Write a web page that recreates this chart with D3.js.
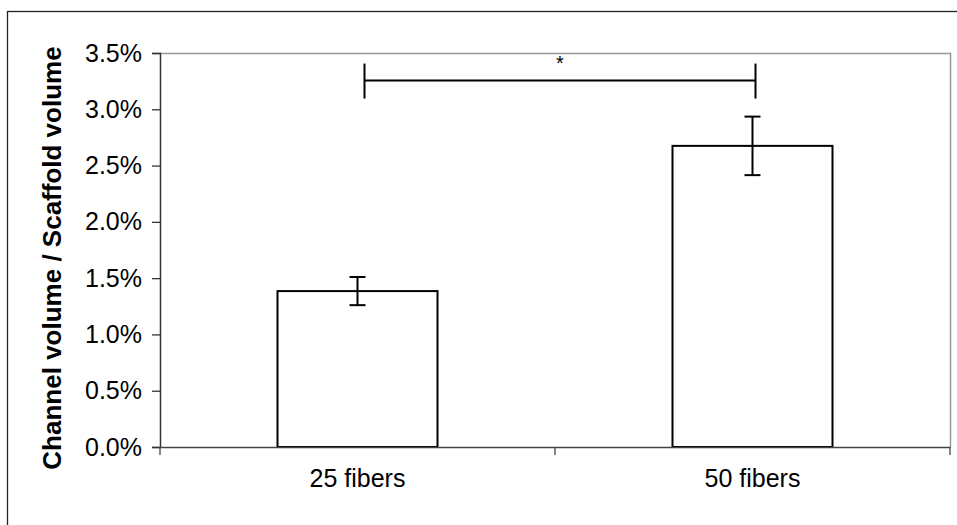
<!DOCTYPE html>
<html>
<head>
<meta charset="utf-8">
<script src="https://cdn.jsdelivr.net/npm/d3@7"></script>
<style>
  body { margin: 0; background: #fff; }
  text { font-family: "Liberation Sans", Arial, sans-serif; fill: #000; }
</style>
</head>
<body>
<svg id="chart" width="957" height="525"></svg>
<script>
// data
var categories = ["25 fibers", "50 fibers"];
var means = [1.385, 2.675];       // percent
var errors = [0.125, 0.26];       // +/- percent
var yTicks = [0, 0.5, 1.0, 1.5, 2.0, 2.5, 3.0, 3.5];
var sigPair = ["25 fibers", "50 fibers"];
var sigLevel = 3.255;
var sigLabel = "*";

var svg = d3.select("#chart");

// outer frame
svg.append("rect")
    .attr("x", 7.5).attr("y", 11.5)
    .attr("width", 960).attr("height", 530)
    .attr("fill", "none").attr("stroke", "#222").attr("stroke-width", 1.3);

// plot area (note: "top" clashes with window.top)
var plotL = 160, plotR = 950, plotT = 53, plotB = 447;

var x = d3.scaleBand().domain(categories).range([plotL, plotR]).paddingInner(0).paddingOuter(0);
var y = d3.scaleLinear().domain([0, 3.5]).range([plotB, plotT]);
var barW = 160;

// plot area top/right edges (gray)
svg.append("path")
    .attr("d", "M" + plotL + "," + (plotT + 0.5) + "H" + (plotR + 0.5) + "V" + plotB)
    .attr("fill", "none").attr("stroke", "#999").attr("stroke-width", 1.5);

// bars
svg.selectAll("rect.bar").data(categories).enter().append("rect")
    .attr("class", "bar")
    .attr("x", function(d) { return x(d) + x.bandwidth() / 2 - barW / 2; })
    .attr("width", barW)
    .attr("y", function(d, i) { return y(means[i]); })
    .attr("height", function(d, i) { return y(0) - y(means[i]); })
    .attr("fill", "#fff").attr("stroke", "#000").attr("stroke-width", 2);

// y axis
var yAxis = svg.append("g")
    .attr("transform", "translate(" + plotL + ",0)")
    .call(d3.axisLeft(y).tickValues(yTicks).tickSize(8).tickPadding(10)
        .tickFormat(function(d) { return d3.format(".1f")(d) + "%"; }));
yAxis.select(".domain").attr("stroke", "#333").attr("stroke-width", 1.5);
yAxis.selectAll(".tick line").attr("stroke", "#333").attr("stroke-width", 1.3);
yAxis.selectAll("text").style("font-size", "25px").attr("fill", "#000");

// x axis
var xAxis = svg.append("g")
    .attr("transform", "translate(0," + plotB + ")")
    .call(d3.axisBottom(x).tickSize(0).tickPadding(22));
xAxis.select(".domain").attr("stroke", "#444").attr("stroke-width", 1.5);
xAxis.selectAll("text").style("font-size", "25px").attr("fill", "#000");
// category separators
var seps = [plotL, x(categories[1]), plotR];
svg.selectAll("line.sep").data(seps).enter().append("line")
    .attr("x1", function(d) { return d; }).attr("x2", function(d) { return d; })
    .attr("y1", plotB).attr("y2", plotB + 8)
    .attr("stroke", "#444").attr("stroke-width", 1.3);

// error bars
var capW = 16;
var eb = svg.selectAll("g.err").data(categories).enter().append("g").attr("class", "err");
eb.append("line")
    .attr("x1", function(d) { return x(d) + x.bandwidth() / 2; })
    .attr("x2", function(d) { return x(d) + x.bandwidth() / 2; })
    .attr("y1", function(d, i) { return y(means[i] + errors[i]); })
    .attr("y2", function(d, i) { return y(means[i] - errors[i]); });
eb.append("line")
    .attr("x1", function(d) { return x(d) + x.bandwidth() / 2 - capW / 2; })
    .attr("x2", function(d) { return x(d) + x.bandwidth() / 2 + capW / 2; })
    .attr("y1", function(d, i) { return y(means[i] + errors[i]); })
    .attr("y2", function(d, i) { return y(means[i] + errors[i]); });
eb.append("line")
    .attr("x1", function(d) { return x(d) + x.bandwidth() / 2 - capW / 2; })
    .attr("x2", function(d) { return x(d) + x.bandwidth() / 2 + capW / 2; })
    .attr("y1", function(d, i) { return y(means[i] - errors[i]); })
    .attr("y2", function(d, i) { return y(means[i] - errors[i]); });
eb.selectAll("line").attr("stroke", "#000").attr("stroke-width", 2);

// significance bracket
var bx1 = x(sigPair[0]) + x.bandwidth() / 2 + 7;
var bx2 = x(sigPair[1]) + x.bandwidth() / 2 + 3;
var by = y(sigLevel);
var sig = svg.append("g").attr("stroke", "#000").attr("stroke-width", 2);
sig.append("line").attr("x1", bx1).attr("x2", bx2).attr("y1", by).attr("y2", by);
sig.append("line").attr("x1", bx1).attr("x2", bx1).attr("y1", by - 17).attr("y2", by + 18);
sig.append("line").attr("x1", bx2).attr("x2", bx2).attr("y1", by - 17).attr("y2", by + 18);
svg.append("text")
    .attr("x", (bx1 + bx2) / 2).attr("y", by - 11)
    .attr("text-anchor", "middle")
    .style("font-size", "20px")
    .text(sigLabel);

// y axis title
svg.append("text")
    .attr("transform", "translate(61,258) rotate(-90)")
    .attr("text-anchor", "middle")
    .style("font-size", "26px").style("font-weight", "bold")
    .text("Channel volume / Scaffold volume");
</script>
</body>
</html>
